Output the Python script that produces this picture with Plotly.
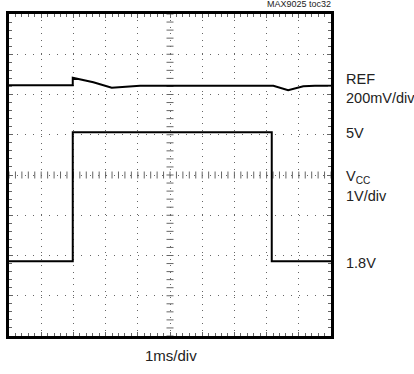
import numpy as np
import plotly.graph_objects as go

# ---- data ----
t_vcc = [0.0, 1.98, 1.98, 8.16, 8.16, 10.0]         # ms
vcc_v = [1.8, 1.8, 5.0, 5.0, 1.8, 1.8]              # V

t_ref = [0.0, 1.98, 1.98, 2.62, 3.19, 3.5, 4.07, 8.21, 8.67, 9.14, 9.5, 10.0]  # ms
ref_mv = [0, 0, 37, 15, -12, -8, -2, -2, -25, -5, -2, -2]                        # mV (relative)

right_labels = ["REF", "200mV/div", "5V", "V<sub>CC</sub>", "1V/div", "1.8V"]
x_label = "1ms/div"
tag = "MAX9025 toc32"

FONT = "Liberation Sans, Arial, Helvetica, sans-serif"

fig = go.Figure()

# centre-line tick marks (graticule)
xs = np.round(np.arange(0, 10.001, 0.2), 3)
ys = np.round(np.arange(0, 8.001, 0.2), 3)
fig.add_trace(go.Scatter(x=xs, y=[4] * len(xs), mode="markers", xaxis="x", yaxis="y",
                         marker=dict(symbol="line-ns", size=5, line=dict(width=1, color="#666")),
                         hoverinfo="skip", showlegend=False))
fig.add_trace(go.Scatter(x=[5] * len(ys), y=ys, mode="markers", xaxis="x", yaxis="y",
                         marker=dict(symbol="line-ew", size=5, line=dict(width=1, color="#666")),
                         hoverinfo="skip", showlegend=False))

fig.add_trace(go.Scatter(x=t_vcc, y=vcc_v, mode="lines", yaxis="y2",
                         line=dict(color="black", width=2), showlegend=False))
fig.add_trace(go.Scatter(x=t_ref, y=ref_mv, mode="lines", yaxis="y3",
                         line=dict(color="black", width=2), showlegend=False))

ref_zero_div = 6.229
fig.update_layout(
    width=414, height=374,
    margin=dict(l=9, r=83, t=14, b=38),
    paper_bgcolor="white", plot_bgcolor="white",
    font=dict(family=FONT, color="#222"),
    xaxis=dict(range=[0, 10], dtick=1, tick0=0, showticklabels=False,
               showgrid=True, gridcolor="#666", gridwidth=1, griddash="1px,5.44px",
               zeroline=False, showline=True, linecolor="black", linewidth=2.5, mirror="ticks",
               ticks="inside", ticklen=4, tickcolor="#666",
               minor=dict(dtick=0.2, ticks="inside", ticklen=3, tickcolor="#666", showgrid=False)),
    yaxis=dict(range=[0, 8], dtick=1, tick0=0, showticklabels=False,
               showgrid=True, gridcolor="#666", gridwidth=1, griddash="1px,7.05px",
               zeroline=False, showline=True, linecolor="black", linewidth=2.5, mirror="ticks",
               ticks="inside", ticklen=4, tickcolor="#666",
               minor=dict(dtick=0.2, ticks="inside", ticklen=3, tickcolor="#666", showgrid=False)),
    yaxis2=dict(range=[-0.06, 7.94], overlaying="y", visible=False),
    yaxis3=dict(range=[-ref_zero_div * 200, (8 - ref_zero_div) * 200], overlaying="y", visible=False),
)

label_y = [0.7966, 0.739, 0.630, 0.494, 0.436, 0.2267]
for txt, yy in zip(right_labels, label_y):
    fig.add_annotation(x=1.04, y=yy, xref="paper", yref="paper", text=txt, showarrow=False,
                       xanchor="left", yanchor="middle", font=dict(size=14.5, family=FONT, color="#222"))

fig.add_annotation(x=0.5016, y=-0.062, xref="paper", yref="paper", text=x_label, showarrow=False,
                   xanchor="center", yanchor="middle", font=dict(size=15, family=FONT, color="#222"))
fig.add_annotation(x=1.006, y=1.031, xref="paper", yref="paper", text=tag, showarrow=False,
                   xanchor="right", yanchor="middle", font=dict(size=9, family=FONT, color="#222"))

fig.write_html("out.html", config={"displayModeBar": False},
               post_script="document.body.style.margin='0';")
